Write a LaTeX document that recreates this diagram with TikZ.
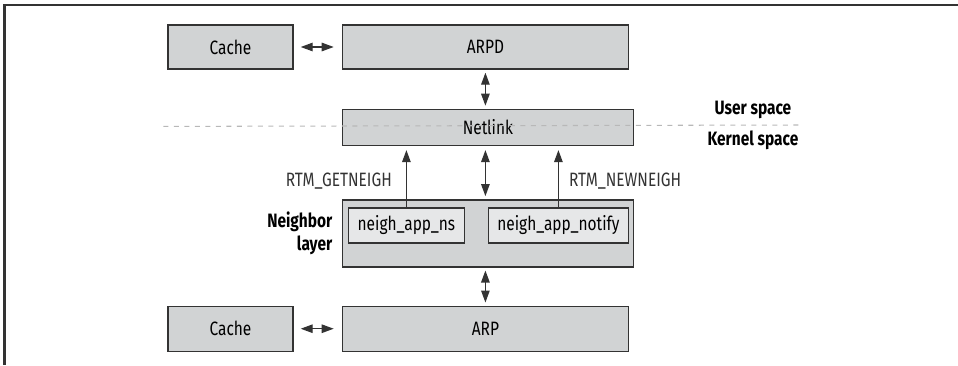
\documentclass[tikz,border=0pt]{standalone}
\usepackage{fontspec}
\setmainfont{Fira Sans}[FakeStretch=0.8]
\usepackage{tikz}
\usetikzlibrary{arrows.meta,positioning,calc}
\definecolor{BoxGray}{HTML}{D1D3D4}
\definecolor{InnerGray}{HTML}{E6E7E8}
\definecolor{EdgeGray}{HTML}{333333}
\definecolor{SepGray}{HTML}{B8B8B8}

\begin{document}
\begin{tikzpicture}[>={Triangle[length=2.4mm,width=1.7mm]}]
\tikzstyle{blk}=[draw=EdgeGray,line width=0.8pt,fill=BoxGray,minimum height=0.88cm,inner sep=0pt,font=\fontsize{11}{13}\selectfont]
\tikzstyle{inner}=[draw=EdgeGray,line width=0.8pt,fill=InnerGray,minimum height=0.7cm,inner sep=0pt,font=\fontsize{11}{13}\selectfont]
\tikzstyle{lbl}=[font=\fontsize{11}{13}\selectfont,inner sep=0pt]
\tikzstyle{side}=[font=\bfseries\fontsize{11}{13}\selectfont,inner sep=0pt,align=right]
\tikzstyle{link}=[<->,line width=0.7pt,EdgeGray]
\tikzstyle{sep}=[SepGray,line width=0.6pt,dash pattern=on 0.1cm off 0.11cm]
\useasboundingbox (0,0) rectangle (19.16,-7.3);
\draw[EdgeGray,line width=1.2pt] (0.09,-7.3) -- (0.09,-0.1) -- (19.16,-0.1);
\node[blk,minimum width=2.5cm] (cacheU) at (4.61,-0.94) {Cache};
\node[blk,minimum width=5.72cm,right=0.96cm of cacheU] (arpd) {ARPD};
\node[blk,minimum width=5.82cm,minimum height=0.72cm,below=0.78cm of arpd.south west,anchor=north west] (netlink) {Netlink};
\node[blk,minimum width=5.82cm,minimum height=1.34cm,below=1.06cm of netlink] (nbr) {};
\node[inner,minimum width=2.32cm,below right=0.16cm and 0.12cm of nbr.north west] (ns) {neigh\_app\_ns};
\node[inner,minimum width=2.8cm,below left=0.16cm and 0.1cm of nbr.north east] (notify) {neigh\_app\_notify};
\node[side,left=0.18cm of nbr] (nbrlbl) {Neighbor\\layer};
\node[blk,minimum width=5.72cm,minimum height=0.9cm,below=0.76cm of nbr.south west,anchor=north west] (arp) {ARP};
\node[blk,minimum width=2.5cm,minimum height=0.9cm,left=0.96cm of arp] (cacheK) {Cache};
\draw[link,shorten <=0.14cm,shorten >=0.16cm] (cacheU) -- (arpd);
\draw[link,shorten <=0.14cm,shorten >=0.16cm] (cacheK) -- (arp);
\draw[link,shorten <=0.06cm,shorten >=0.06cm] (arpd.south) -- (arpd.south |- netlink.north);
\draw[link,shorten <=0.08cm,shorten >=0.06cm] (arpd.south |- netlink.south) -- (arpd.south |- nbr.north);
\draw[link,shorten <=0.06cm,shorten >=0.06cm] (arpd.south |- nbr.south) -- (arpd.south |- arp.north);
\draw[->,line width=0.7pt,EdgeGray,shorten >=0.08cm] (ns.north) -- (ns.north |- netlink.south)
  node[lbl,pos=0.42,left=0.28cm] (getn) {RTM\_GETNEIGH};
\draw[->,line width=0.7pt,EdgeGray,shorten >=0.08cm] (notify.north) -- (notify.north |- netlink.south)
  node[lbl,pos=0.42,right=0.2cm] (newn) {RTM\_NEWNEIGH};
\coordinate (sepL) at ($(cacheU.west |- netlink)+(-0.08,0.02)$);
\coordinate (sepR) at (16.0,-2.5);
\draw[sep] (sepL) -- (sepR);
\node[side,align=center] (user) at (15.06,-2.2) {User space};
\node[side,align=center] (kernel) at (15.06,-2.8) {Kernel space};
\end{tikzpicture}
\end{document}
